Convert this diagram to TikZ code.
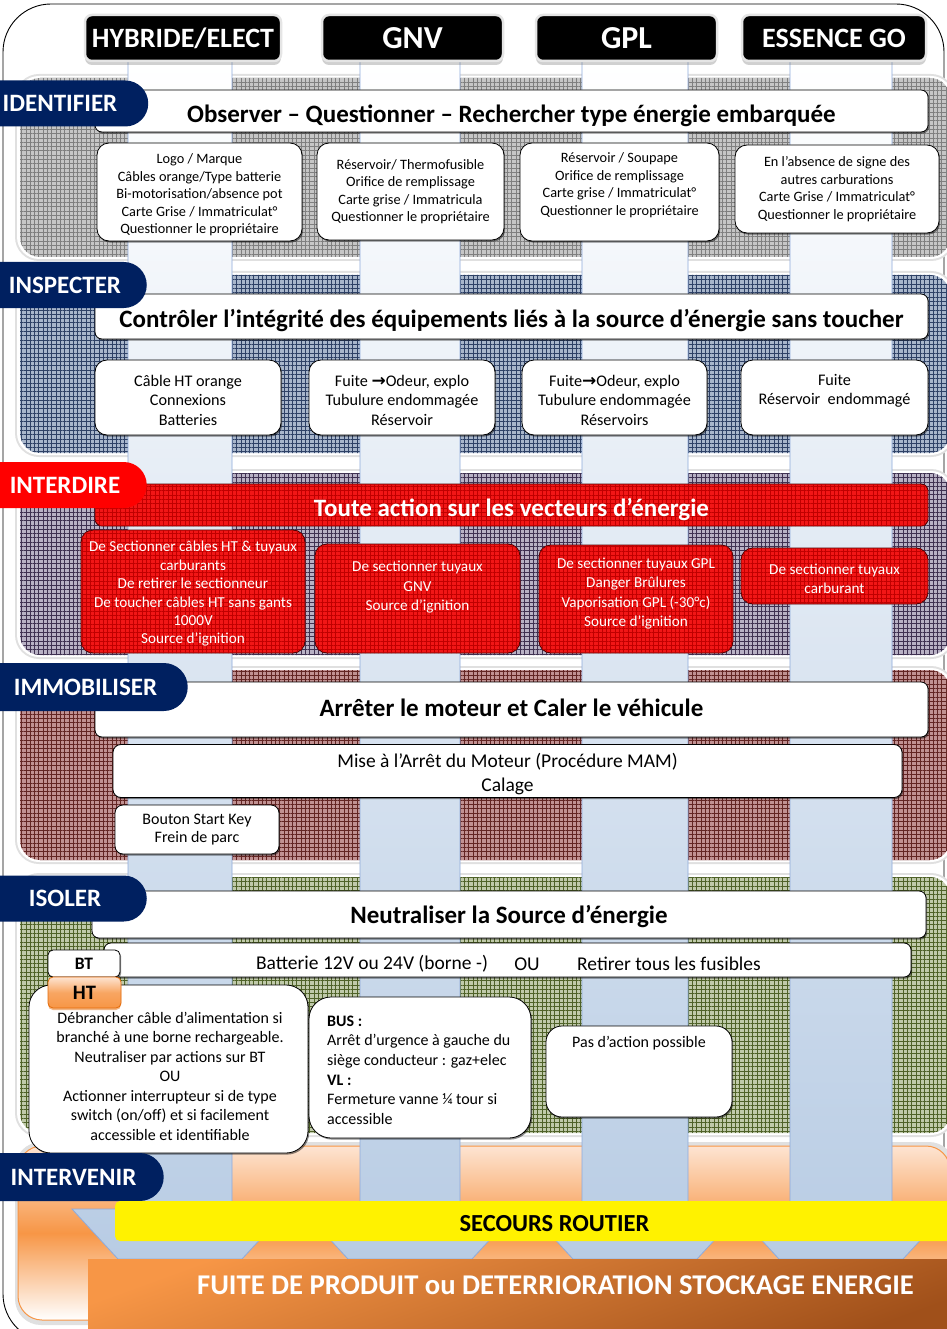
\documentclass[tikz,border=0pt]{standalone}
\usepackage{fontspec}
\setmainfont{Carlito}
\newfontfamily\dejavu{DejaVu Sans}
\usetikzlibrary{patterns.meta,shadows,shapes.misc}
\definecolor{navy}{HTML}{002060}
\definecolor{colB}{HTML}{B8CCE4}
\definecolor{colE}{HTML}{8EAADB}
\definecolor{redbox}{HTML}{F21616}
\definecolor{redline}{HTML}{C00000}
\definecolor{redborder}{HTML}{500000}
\definecolor{gBase}{HTML}{C6C6C6}
\definecolor{gLine}{HTML}{7F7F7F}
\definecolor{bBase}{HTML}{A8B6CB}
\definecolor{bLine}{HTML}{2E4166}
\definecolor{pBase}{HTML}{B8B1C4}
\definecolor{pLine}{HTML}{3F3151}
\definecolor{rBase}{HTML}{C19192}
\definecolor{rLine}{HTML}{632523}
\definecolor{oBase}{HTML}{C0CAAA}
\definecolor{oLine}{HTML}{4F6228}
\definecolor{orA}{HTML}{F79646}
\definecolor{orB}{HTML}{FDE4D2}
\definecolor{orC}{HTML}{E46C0A}
\definecolor{brown}{HTML}{A0501A}
\newcommand{\fsz}[2]{\fontsize{#1}{#2}\selectfont}
\newcommand{\band}[4]{%
  \fill[black!12, rounded corners=24pt] (15,#1-4) rectangle (955,#2+4);
  \fill[white, rounded corners=22pt] (17,#1-2) rectangle (953,#2+2);
  \path[rounded corners=20pt, fill=#3, postaction={pattern={Hatch[distance=4.3pt,line width=0.6pt]}, pattern color=#4}] (20,#1) rectangle (950,#2);
}
\newcommand{\colstripe}[2]{%
  \pgfmathsetmacro\cc{(#1+#2)/2}
  \path[top color=white, bottom color=colB, draw=colE, line width=0.8pt]
    (#1,61) -- (#1,1209) -- (\cc-108,1209) -- (\cc-62,1259) -- (\cc+62,1259)
    -- (\cc+108,1209) -- (#2,1209) -- (#2,61) -- cycle;
}
\newcommand{\arr}{{\dejavu\bfseries\fsz{17}{19.5}→}}
\tikzset{
  shd/.style={drop shadow={shadow xshift=1.2pt, shadow yshift=-1.6pt, opacity=0.45, fill=black}},
  hdr/.style={fill=black, draw=black!10, line width=2.5pt, rounded corners=7pt, text=white,
    font=\bfseries\fsz{28}{30}, inner sep=0, minimum height=46pt,
    drop shadow={shadow xshift=0pt, shadow yshift=-4pt, opacity=0.3, fill=black!60}},
  tabst/.style={rounded rectangle, rounded rectangle west arc=none, fill=navy, text=white,
    font=\bfseries\fsz{25}{27}, inner sep=0, minimum height=46pt},
  ttl/.style={fill=white, draw=black, line width=0.8pt, rounded corners=7pt, inner sep=0, shd},
  ttxt/.style={inner sep=0, font=\bfseries\fsz{25}{28}},
  bx/.style={fill=white, draw=black, line width=0.8pt, rounded corners=12pt, align=center, inner sep=0, shd},
  rbx/.style={fill=redbox, draw=redborder, line width=0.9pt, rounded corners=12pt, align=center,
    inner sep=0, text=white, postaction={pattern={Hatch[distance=4.3pt,line width=0.3pt]}, pattern color=redline}},
  txt/.style={align=center, inner sep=0},
}
\begin{document}
\begin{tikzpicture}[x=1pt,y=-1pt]
\useasboundingbox (0,0) rectangle (946,1329);
\fill[white] (0,0) rectangle (946,1329);
% outer frame
\draw[black, line width=0.9pt, rounded corners=48pt] (3,4) rectangle (944,1342);

% bands
\band{78}{257}{gBase}{gLine}
\band{275}{453}{bBase}{bLine}
\band{473}{655}{pBase}{pLine}
\band{670}{860}{rBase}{rLine}
\band{877}{1133}{oBase}{oLine}
\fill[black!12, rounded corners=26pt] (15,1142) rectangle (955,1325);
\path[rounded corners=24pt, top color=orB, bottom color=white, middle color=orA, draw=orA, line width=1pt] (18,1146) rectangle (950,1320);

% columns
\colstripe{128}{232}
\colstripe{360}{460}
\colstripe{582}{688}
\colstripe{790}{892}

% headers
\node[hdr, minimum width=196pt] (hHyb) at (183,38) {HYBRIDE/ELECT};
\node[hdr, minimum width=181pt, font=\bfseries\fsz{32}{34}] (hGnv) at (412.5,38) {GNV};
\node[hdr, minimum width=181pt, font=\bfseries\fsz{32}{34}] (hGpl) at (626.5,38) {GPL};
\node[hdr, minimum width=184pt] (hEss) at (834,38) {ESSENCE GO};

% ---------- IDENTIFIER
\node[ttl, minimum width=833pt, minimum height=42pt] (tIdent) at (511.5,111) {};
\node[ttxt] (tIdentT) at (511.5,116) {Observer – Questionner – Rechercher type énergie embarquée};
\node[tabst, minimum width=175pt] (kIdent) at (60,103.5) {IDENTIFIER};
\node[bx, minimum width=205pt, minimum height=98pt] (i1) at (199.5,192) {};
\node[txt, font=\fsz{14.3}{17.5}] (i1t) at (199.5,195)
  {Logo / Marque\\Câbles orange/Type batterie\\Bi-motorisation/absence pot\\Carte Grise / Immatriculat°\\Questionner le propriétaire};
\node[bx, minimum width=187pt, minimum height=97pt, font=\fsz{14.3}{17.5}] (i2) at (410.5,191.5)
  {Réservoir/ Thermofusible\\Orifice de remplissage\\Carte grise / Immatricula\\Questionner le propriétaire};
\node[bx, minimum width=199pt, minimum height=98pt] (i3) at (619.5,192) {};
\node[txt, font=\fsz{14.3}{17.5}] (i3t) at (619.5,185)
  {Réservoir / Soupape\\Orifice de remplissage\\Carte grise / Immatriculat°\\Questionner le propriétaire};
\node[bx, minimum width=204pt, minimum height=88pt, font=\fsz{14.3}{17.5}] (i4) at (837,189)
  {En l’absence de signe des\\autres carburations\\Carte Grise / Immatriculat°\\Questionner le propriétaire};

% ---------- INSPECTER
\node[ttl, minimum width=833pt, minimum height=45pt] (tInsp) at (511.5,316.5) {};
\node[ttxt] (tInspT) at (511.5,321) {Contrôler l’intégrité des équipements liés à la source d’énergie sans toucher};
\node[tabst, minimum width=162pt] (kInsp) at (65,285) {INSPECTER};
\node[bx, minimum width=186pt, minimum height=75pt] (s1) at (188,397.5) {};
\node[txt, font=\fsz{16.2}{19.5}] (s1t) at (188,400) {Câble HT orange\\Connexions\\Batteries};
\node[bx, minimum width=186pt, minimum height=75pt] (s2) at (402,397.5) {};
\node[txt, font=\fsz{16.2}{19.5}] (s2t) at (402,400)
  {Fuite \arr Odeur, explo\\Tubulure endommagée\\Réservoir};
\node[bx, minimum width=185pt, minimum height=75pt] (s3) at (614.5,397.5) {};
\node[txt, font=\fsz{16.2}{19.5}] (s3t) at (614.5,400)
  {Fuite\arr Odeur, explo\\Tubulure endommagée\\Réservoirs};
\node[bx, minimum width=187pt, minimum height=75pt] (s4) at (834.5,397.5) {};
\node[txt, font=\fsz{16.2}{19.5}] (s4t) at (834.5,391) {Fuite\\Réservoir~ endommagé};

% ---------- INTERDIRE
\node[rbx, rounded corners=7pt, minimum width=833pt, minimum height=42pt] (tInt) at (511.5,505) {};
\node[ttxt, text=white] (tIntT) at (511.5,510) {Toute action sur les vecteurs d’énergie};
\node[tabst, fill=red, minimum width=162pt] (kInt) at (65,485) {INTERDIRE};
\node[rbx, minimum width=224pt, minimum height=123pt] (r1) at (193,591.5) {};
\node[txt, text=white, font=\fsz{15.2}{18.4}] (r1t) at (193,594)
  {De Sectionner câbles HT \& tuyaux\\carburants\\De retirer le sectionneur\\De toucher câbles HT sans gants\\1000V\\Source d’ignition};
\node[rbx, minimum width=205pt, minimum height=109pt] (r2) at (417.5,598.5) {};
\node[txt, text=white, font=\fsz{15.2}{19.5}] (r2t) at (417.5,587.5)
  {De sectionner tuyaux\\GNV\\Source d’ignition};
\node[rbx, minimum width=194pt, minimum height=108pt] (r3) at (636,599) {};
\node[txt, text=white, font=\fsz{15.2}{19.5}] (r3t) at (636,593.5)
  {De sectionner tuyaux GPL\\Danger Brûlures\\Vaporisation GPL (-30°c)\\Source d’ignition};
\node[rbx, minimum width=187pt, minimum height=56pt] (r4) at (834.5,576) {};
\node[txt, text=white, font=\fsz{15.2}{19.5}] (r4t) at (834.5,579) {De sectionner tuyaux\\carburant};

% ---------- IMMOBILISER
\node[ttl, minimum width=833pt, minimum height=55pt] (tImm) at (511.5,709.5) {};
\node[ttxt] (tImmT) at (511.5,708) {Arrêter le moteur et Caler le véhicule};
\node[tabst, minimum width=203pt, minimum height=48pt] (kImm) at (85.5,687) {IMMOBILISER};
\node[bx, rounded corners=8pt, minimum width=789pt, minimum height=53pt] (m1) at (507.5,771) {};
\node[txt, font=\fsz{19.5}{24}] (m1t) at (507.5,774) {Mise à l’Arrêt du Moteur (Procédure MAM)\\Calage};
\node[bx, rounded corners=8pt, minimum width=164pt, minimum height=49pt, font=\fsz{16}{18}] (m2) at (197,829.5)
  {Bouton Start Key\\Frein de parc};

% ---------- ISOLER
\node[ttl, minimum width=834pt, minimum height=47pt] (tIso) at (509,914.5) {};
\node[ttxt] (tIsoT) at (509,917) {Neutraliser la Source d’énergie};
\node[tabst, minimum width=162pt] (kIso) at (65,898.5) {ISOLER};
\node[bx, rounded corners=7pt, minimum width=807pt, minimum height=34pt] (bt) at (507.5,960) {};
\node[txt, font=\fsz{19.5}{22}] (btA) at (372,964) {Batterie 12V ou 24V (borne -)};
\node[txt, font=\fsz{19.5}{22}] (btO) at (527,964) {OU};
\node[txt, font=\fsz{19.5}{22}] (btB) at (669,964) {Retirer tous les fusibles};
\node[bx, rounded corners=5pt, minimum width=72pt, minimum height=27pt, font=\bfseries\fsz{17.5}{19}] (btK) at (84,963.5) {BT};
\node[bx, rounded corners=22pt, minimum width=279pt, minimum height=168pt] (h1) at (168.5,1069) {};
\node[txt, font=\fsz{16}{19.5}] (h1t) at (170,1076)
  {Débrancher câble d’alimentation si\\branché à une borne rechargeable.\\Neutraliser par actions sur BT\\OU\\Actionner interrupteur si de type\\switch (on/off) et si facilement\\accessible et identifiable};
\node[draw=orC, line width=0.8pt, rounded corners=5pt, top color=orB, bottom color=orA, middle color=orA!80!orB,
  minimum width=73pt, minimum height=31pt, inner sep=0, font=\bfseries\fsz{20.5}{22},
  drop shadow={shadow xshift=0pt, shadow yshift=-2pt, opacity=0.5, fill=orC}] (htK) at (84.5,992.5) {HT};
\node[bx, rounded corners=22pt, minimum width=222pt, minimum height=141pt] (b1) at (420,1067.5) {};
\node[txt, align=left, anchor=west, font=\fsz{16}{19.6}] (b1t) at (327,1070)
  {\textbf{BUS :}\\Arrêt d’urgence à gauche du\\siège conducteur : gaz+elec\\\textbf{VL :}\\Fermeture vanne ¼ tour si\\accessible};
\node[bx, rounded corners=16pt, minimum width=186pt, minimum height=91pt] (p1) at (639,1071.5) {};
\node[txt, font=\fsz{16}{18}] (p1t) at (639,1043) {Pas d’action possible};

% ---------- INTERVENIR
\node[tabst, minimum width=179pt, minimum height=48pt] (kInv) at (73.5,1177) {INTERVENIR};
\node[fill=yellow, rounded corners=5pt, minimum width=840pt, minimum height=40pt, inner sep=0] (sec) at (535,1221) {};
\node[txt, font=\bfseries\fsz{24.5}{26}] (secT) at (554.5,1224) {SECOURS ROUTIER};
\node[top color=orA, bottom color=brown, shading angle=20, minimum width=870pt, minimum height=82pt, inner sep=0] (fuite) at (523,1300) {};
\node[txt, text=white, font=\bfseries\fsz{28.6}{30}] (fuiteT) at (555.5,1285) {FUITE DE PRODUIT ou DETERRIORATION STOCKAGE ENERGIE};
\end{tikzpicture}
\end{document}
